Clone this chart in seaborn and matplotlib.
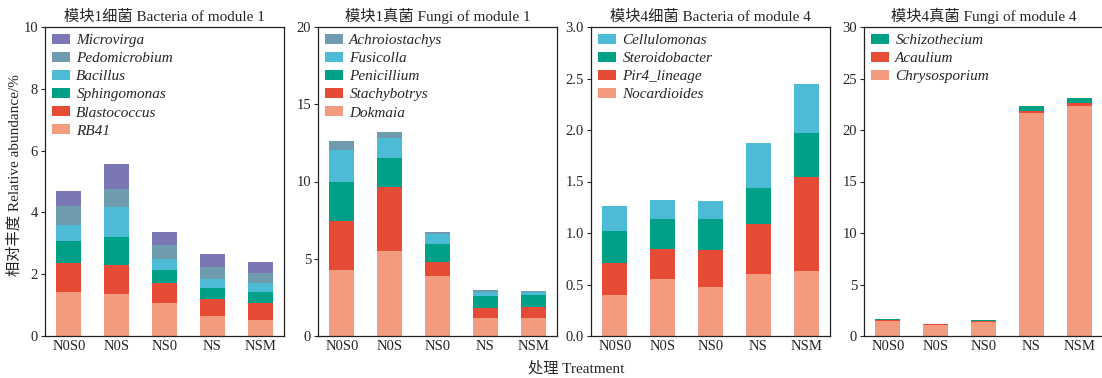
import matplotlib
matplotlib.use("Agg")
import matplotlib.pyplot as plt
from matplotlib.patches import Patch
import seaborn as sns
import numpy as np
import pandas as pd

sns.set_theme(style="white")
plt.rcParams['font.family'] = ['Liberation Serif', 'Noto Sans CJK SC', 'DejaVu Sans']

treatments = ["N0S0", "N0S", "NS0", "NS", "NSM"]

# Panel 1: bacteria of module 1 (bottom -> top)
p1_names = ["RB41", "Blastococcus", "Sphingomonas", "Bacillus", "Pedomicrobium", "Microvirga"]
p1_RB41 = [1.43, 1.36, 1.08, 0.66, 0.51]
p1_Blastococcus = [0.92, 0.94, 0.62, 0.53, 0.56]
p1_Sphingomonas = [0.72, 0.90, 0.44, 0.36, 0.34]
p1_Bacillus = [0.53, 0.96, 0.34, 0.29, 0.30]
p1_Pedomicrobium = [0.62, 0.59, 0.47, 0.39, 0.33]
p1_Microvirga = [0.46, 0.81, 0.40, 0.42, 0.34]

# Panel 2: fungi of module 1
p2_names = ["Dokmaia", "Stachybotrys", "Penicillium", "Fusicolla", "Achroiostachys"]
p2_Dokmaia = [4.29, 5.50, 3.88, 1.14, 1.19]
p2_Stachybotrys = [3.15, 4.13, 0.93, 0.69, 0.66]
p2_Penicillium = [2.52, 1.92, 1.12, 0.78, 0.80]
p2_Fusicolla = [2.07, 1.27, 0.66, 0.26, 0.19]
p2_Achroiostachys = [0.62, 0.37, 0.11, 0.10, 0.09]

# Panel 3: bacteria of module 4
p3_names = ["Nocardioides", "Pir4_lineage", "Steroidobacter", "Cellulomonas"]
p3_Nocardioides = [0.40, 0.556, 0.478, 0.601, 0.634]
p3_Pir4_lineage = [0.305, 0.291, 0.359, 0.489, 0.911]
p3_Steroidobacter = [0.31, 0.285, 0.301, 0.349, 0.427]
p3_Cellulomonas = [0.245, 0.184, 0.168, 0.436, 0.475]

# Panel 4: fungi of module 4
p4_names = ["Chrysosporium", "Acaulium", "Schizothecium"]
p4_Chrysosporium = [1.43, 1.04, 1.36, 21.62, 22.33]
p4_Acaulium = [0.09, 0.09, 0.07, 0.25, 0.26]
p4_Schizothecium = [0.10, 0.03, 0.12, 0.49, 0.51]

titles = ["模块1细菌 Bacteria of module 1", "模块1真菌 Fungi of module 1",
          "模块4细菌 Bacteria of module 4", "模块4真菌 Fungi of module 4"]
ylims = [10, 20, 3.0, 30]
yticks = [np.arange(0, 10.1, 2), np.arange(0, 20.1, 5), np.arange(0, 3.01, 0.5), np.arange(0, 30.1, 5)]

C_SALMON = "#F39B7F"
C_RED = "#E64B35"
C_GREEN = "#00A087"
C_CYAN = "#4DBBD5"
C_STEEL = "#6E9BAE"
C_PURPLE = "#7B77B4"

panels = [
    (p1_names, [p1_RB41, p1_Blastococcus, p1_Sphingomonas, p1_Bacillus, p1_Pedomicrobium, p1_Microvirga],
     [C_SALMON, C_RED, C_GREEN, C_CYAN, C_STEEL, C_PURPLE]),
    (p2_names, [p2_Dokmaia, p2_Stachybotrys, p2_Penicillium, p2_Fusicolla, p2_Achroiostachys],
     [C_SALMON, C_RED, C_GREEN, C_CYAN, C_STEEL]),
    (p3_names, [p3_Nocardioides, p3_Pir4_lineage, p3_Steroidobacter, p3_Cellulomonas],
     [C_SALMON, C_RED, C_GREEN, C_CYAN]),
    (p4_names, [p4_Chrysosporium, p4_Acaulium, p4_Schizothecium],
     [C_SALMON, C_RED, C_GREEN]),
]

W, H = 1102, 378
fig = plt.figure(figsize=(W / 100, H / 100), dpi=100)
lefts = [45, 318, 591, 864]
ax_w, ax_h = 239, 309
ax_bottom = 42

for i, (names, series, colors) in enumerate(panels):
    ax = fig.add_axes([lefts[i] / W, ax_bottom / H, ax_w / W, ax_h / H])
    bottom = np.zeros(len(treatments))
    for name, vals, col in zip(names, series, colors):
        df = pd.DataFrame({"t": treatments, "v": vals})
        sns.barplot(data=df, x="t", y="v", order=treatments, color=col, saturation=1,
                    width=0.52, bottom=bottom, edgecolor="none", linewidth=0,
                    errorbar=None, ax=ax)
        bottom = bottom + np.array(vals)
    handles = [Patch(facecolor=c, edgecolor="none") for c in colors][::-1]
    ax.legend(handles, names[::-1], loc="upper left", frameon=False,
              prop={'family': ['Liberation Serif'], 'style': 'italic', 'size': 11},
              handlelength=1.2, handleheight=0.65, labelspacing=0.3,
              handletextpad=0.4, borderaxespad=0.25, borderpad=0.2)
    ax.set_xlim(-0.5, 4.5)
    ax.set_ylim(0, ylims[i])
    ax.set_yticks(yticks[i])
    if i == 2:
        ax.set_yticklabels([f"{v:.1f}" for v in yticks[i]])
    else:
        ax.set_yticklabels([f"{v:g}" for v in yticks[i]])
    ax.set_xlabel("")
    ax.set_ylabel("")
    ax.set_title(titles[i], fontsize=11, pad=4)
    ax.tick_params(axis="y", direction="out", length=3, width=0.8, labelsize=10.5, pad=2, left=True)
    ax.tick_params(axis="x", length=0, labelsize=10.5, pad=3)
    for s in ax.spines.values():
        s.set_color("#222222")
        s.set_linewidth(0.9)

fig.text(15 / W, (ax_bottom + ax_h / 2 + 6) / H, "相对丰度 Relative abundance/%", rotation=90,
         ha="center", va="center", fontsize=11)
fig.text(576 / W, 1 - 368 / H, "处理 Treatment", ha="center", va="center", fontsize=11)

fig.savefig("out.png", dpi=100)
